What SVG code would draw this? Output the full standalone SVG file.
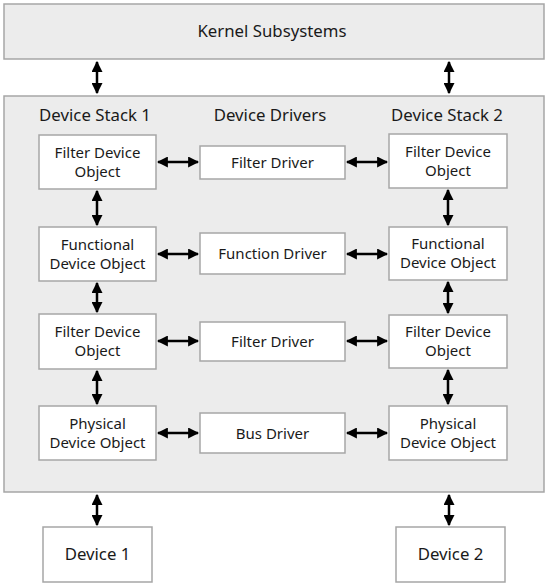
<svg xmlns="http://www.w3.org/2000/svg" width="549" height="586" viewBox="0 0 549 586">
<defs>
<marker id="ah" viewBox="0 0 10 10" refX="9" refY="5" markerWidth="4.4" markerHeight="4.4" markerUnits="strokeWidth" orient="auto-start-reverse">
<path d="M0,0 L10,5 L0,10 Z" fill="#000"/>
</marker>
<style>
.gbox{fill:#ececec;stroke:#a6a6a6;stroke-width:1.5}
.wbox{fill:#fff;stroke:#a6a6a6;stroke-width:1.5}
text{font-family:"Noto Sans","Open Sans","DejaVu Sans",sans-serif;font-size:15px;fill:#1a1a1a;text-anchor:middle}
.hdr{font-size:16.8px}
.con{stroke:#000;stroke-width:2.5;fill:none;marker-start:url(#ah);marker-end:url(#ah)}
</style>
</defs>
<rect width="549" height="586" fill="#fff"/>
<g id="kernel"><rect class="gbox" x="4" y="4" width="540" height="55"/><text class="hdr" x="272" y="37">Kernel Subsystems</text></g>
<g id="container"><rect class="gbox" x="4" y="96" width="540" height="396"/>
<text class="hdr" x="95" y="121">Device Stack 1</text>
<text class="hdr" x="270" y="121">Device Drivers</text>
<text class="hdr" x="447" y="121">Device Stack 2</text></g>
<g id="s1fdo1"><rect class="wbox" x="39" y="135" width="117" height="54"/><text x="97.5" y="158">Filter Device</text><text x="97.5" y="177">Object</text></g>
<g id="s1fun"><rect class="wbox" x="39" y="227" width="117" height="54"/><text x="97.5" y="250">Functional</text><text x="97.5" y="269">Device Object</text></g>
<g id="s1fdo2"><rect class="wbox" x="39" y="314" width="117" height="55"/><text x="97.5" y="337">Filter Device</text><text x="97.5" y="356">Object</text></g>
<g id="s1pdo"><rect class="wbox" x="39" y="406" width="117" height="54"/><text x="97.5" y="429">Physical</text><text x="97.5" y="448">Device Object</text></g>
<g id="d1"><rect class="wbox" x="200" y="146" width="145" height="33"/><text x="272.5" y="168">Filter Driver</text></g>
<g id="d2"><rect class="wbox" x="200" y="233" width="145" height="41"/><text x="272.5" y="259">Function Driver</text></g>
<g id="d3"><rect class="wbox" x="200" y="322" width="145" height="39"/><text x="272.5" y="347">Filter Driver</text></g>
<g id="d4"><rect class="wbox" x="200" y="413" width="145" height="40"/><text x="272.5" y="439">Bus Driver</text></g>
<g id="s2fdo1"><rect class="wbox" x="389" y="134" width="118" height="54"/><text x="448" y="157">Filter Device</text><text x="448" y="176">Object</text></g>
<g id="s2fun"><rect class="wbox" x="389" y="227" width="118" height="53"/><text x="448" y="249">Functional</text><text x="448" y="268">Device Object</text></g>
<g id="s2fdo2"><rect class="wbox" x="389" y="315" width="118" height="53"/><text x="448" y="337">Filter Device</text><text x="448" y="356">Object</text></g>
<g id="s2pdo"><rect class="wbox" x="389" y="406" width="118" height="54"/><text x="448" y="429">Physical</text><text x="448" y="448">Device Object</text></g>
<g id="dev1"><rect class="wbox" x="43" y="527" width="109" height="55"/><text class="hdr" x="97.5" y="560">Device 1</text></g>
<g id="dev2"><rect class="wbox" x="396" y="527" width="109" height="55"/><text class="hdr" x="450.5" y="560">Device 2</text></g>
<g id="connectors">
<line class="con" x1="97" y1="62" x2="97" y2="93"/>
<line class="con" x1="449" y1="62" x2="449" y2="93"/>
<line class="con" x1="158" y1="162" x2="198" y2="162"/>
<line class="con" x1="347" y1="162" x2="387" y2="162"/>
<line class="con" x1="158" y1="254" x2="198" y2="254"/>
<line class="con" x1="347" y1="254" x2="387" y2="254"/>
<line class="con" x1="158" y1="341" x2="198" y2="341"/>
<line class="con" x1="347" y1="341" x2="387" y2="341"/>
<line class="con" x1="158" y1="433" x2="198" y2="433"/>
<line class="con" x1="347" y1="433" x2="387" y2="433"/>
<line class="con" x1="97" y1="191" x2="97" y2="225"/>
<line class="con" x1="97" y1="283" x2="97" y2="312"/>
<line class="con" x1="97" y1="371" x2="97" y2="404"/>
<line class="con" x1="448" y1="190" x2="448" y2="225"/>
<line class="con" x1="448" y1="282" x2="448" y2="313"/>
<line class="con" x1="448" y1="370" x2="448" y2="404"/>
<line class="con" x1="97" y1="495" x2="97" y2="525"/>
<line class="con" x1="449" y1="495" x2="449" y2="525"/>
</g>
</svg>
